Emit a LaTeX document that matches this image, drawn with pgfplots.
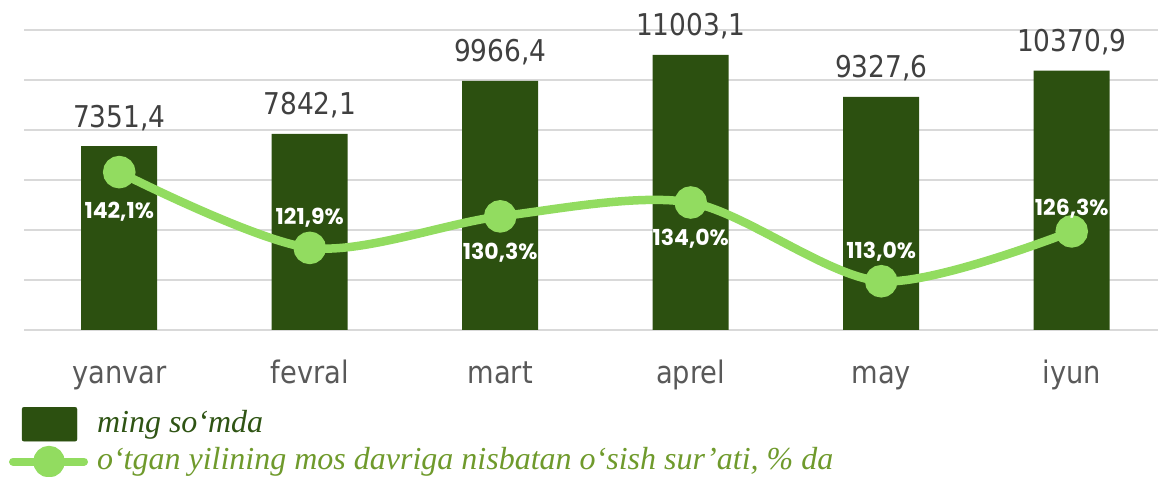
\documentclass[border=0pt]{standalone}
\usepackage{fontspec}
\usepackage{pgfplots}
\usepackage{pgfplotstable}
\pgfplotsset{compat=1.18}
\newfontfamily\tickfont{DejaVu Sans}[FakeStretch=0.88]
\newfontfamily\pctfont{Poppins}
\newfontfamily\legfont{Liberation Serif}
\definecolor{barcol}{RGB}{44,80,16}
\definecolor{linecol}{RGB}{146,220,96}
\definecolor{leg1}{RGB}{47,84,20}
\definecolor{leg2}{RGB}{111,154,44}
\definecolor{gridcol}{RGB}{217,217,217}
\definecolor{valcol}{RGB}{64,64,64}
\definecolor{tickcol}{RGB}{89,89,89}

\pgfplotstableread{
x val lab
0 7351.4 7351,4
1 7842.1 7842,1
2 9966.4 9966,4
3 11003.1 11003,1
4 9327.6 9327,6
5 10370.9 10370,9
}\bars
\pgfplotstableread{
x pct lab off
0 142.1 142,1 -46
1 121.9 121,9 23
2 130.3 130,3 -43
3 134.0 134,0 -43
4 113.0 113,0 23
5 126.3 126,3 16
}\rates

\begin{document}
\begin{tikzpicture}
\path[use as bounding box] (0,0) rectangle (1158bp,477bp);
\begin{axis}[
  at={(24bp,147bp)}, anchor=south west, scale only axis,
  width=1143bp, height=300bp,
  xmin=-0.5, xmax=5.5, ymin=0, ymax=12000,
  axis line style={draw=none}, tick style={draw=none},
  ytick={0,2000,...,12000}, scaled y ticks=false, yticklabel={\relax},
  ymajorgrids, grid style={gridcol, line width=2bp},
  xtick={0,...,5}, xticklabels={yanvar,fevral,mart,aprel,may,iyun},
  xticklabel style={font=\tickfont\fontsize{31bp}{36bp}\selectfont, text=tickcol, anchor=base, yshift=-49bp},
  ybar, bar width=76bp,
  nodes near coords, point meta=explicit symbolic,
  every node near coord/.append style={font=\tickfont\fontsize{30bp}{36bp}\selectfont, text=valcol, anchor=base, yshift=19bp},
]
\addplot[fill=barcol, draw=none] table[x=x,y=val,meta=lab]{\bars};
\end{axis}
\begin{axis}[
  at={(24bp,147bp)}, anchor=south west, scale only axis,
  width=1143bp, height=300bp,
  xmin=-0.5, xmax=5.5, ymin=100, ymax=180,
  axis lines=none,
  legend cell align=left,
  legend style={at={(-0.0131,-0.2567)}, anchor=north west, draw=none, fill=none,
    inner sep=0pt, outer sep=0pt, row sep=4bp,
    /tikz/every odd column/.append style={column sep=7bp},
    font=\legfont\itshape\fontsize{32bp}{36bp}\selectfont,
    cells={anchor=base west}},
]
\addlegendimage{legend image code/.code={\fill[barcol, rounded corners=2bp] (0bp,-9bp) rectangle (55bp,25bp);}}
\addlegendentry{\textcolor{leg1}{ming so‘mda}}
\addplot[smooth, color=linecol, line width=8.5bp, mark=*, mark size=12bp,
  mark options={fill=linecol, draw=none},
  nodes near coords={\pgfplotspointmeta\%}, point meta=explicit symbolic,
  visualization depends on={\thisrow{off} \as \myoff},
  every node near coord/.append style={font=\pctfont\bfseries\fontsize{22bp}{26bp}\selectfont, text=white, anchor=base, yshift=\myoff*1bp},
  legend image code/.code={\draw[linecol, line width=8bp, line cap=round] (-9bp,8bp) -- (62bp,8bp); \fill[linecol] (27bp,8bp) circle (11.5bp);}
] table[x=x,y=pct,meta=lab]{\rates};
\addlegendentry{\textcolor{leg2}{o‘tgan yilining mos davriga nisbatan o‘sish sur’ati, \% da}}
\end{axis}
\end{tikzpicture}
\end{document}
